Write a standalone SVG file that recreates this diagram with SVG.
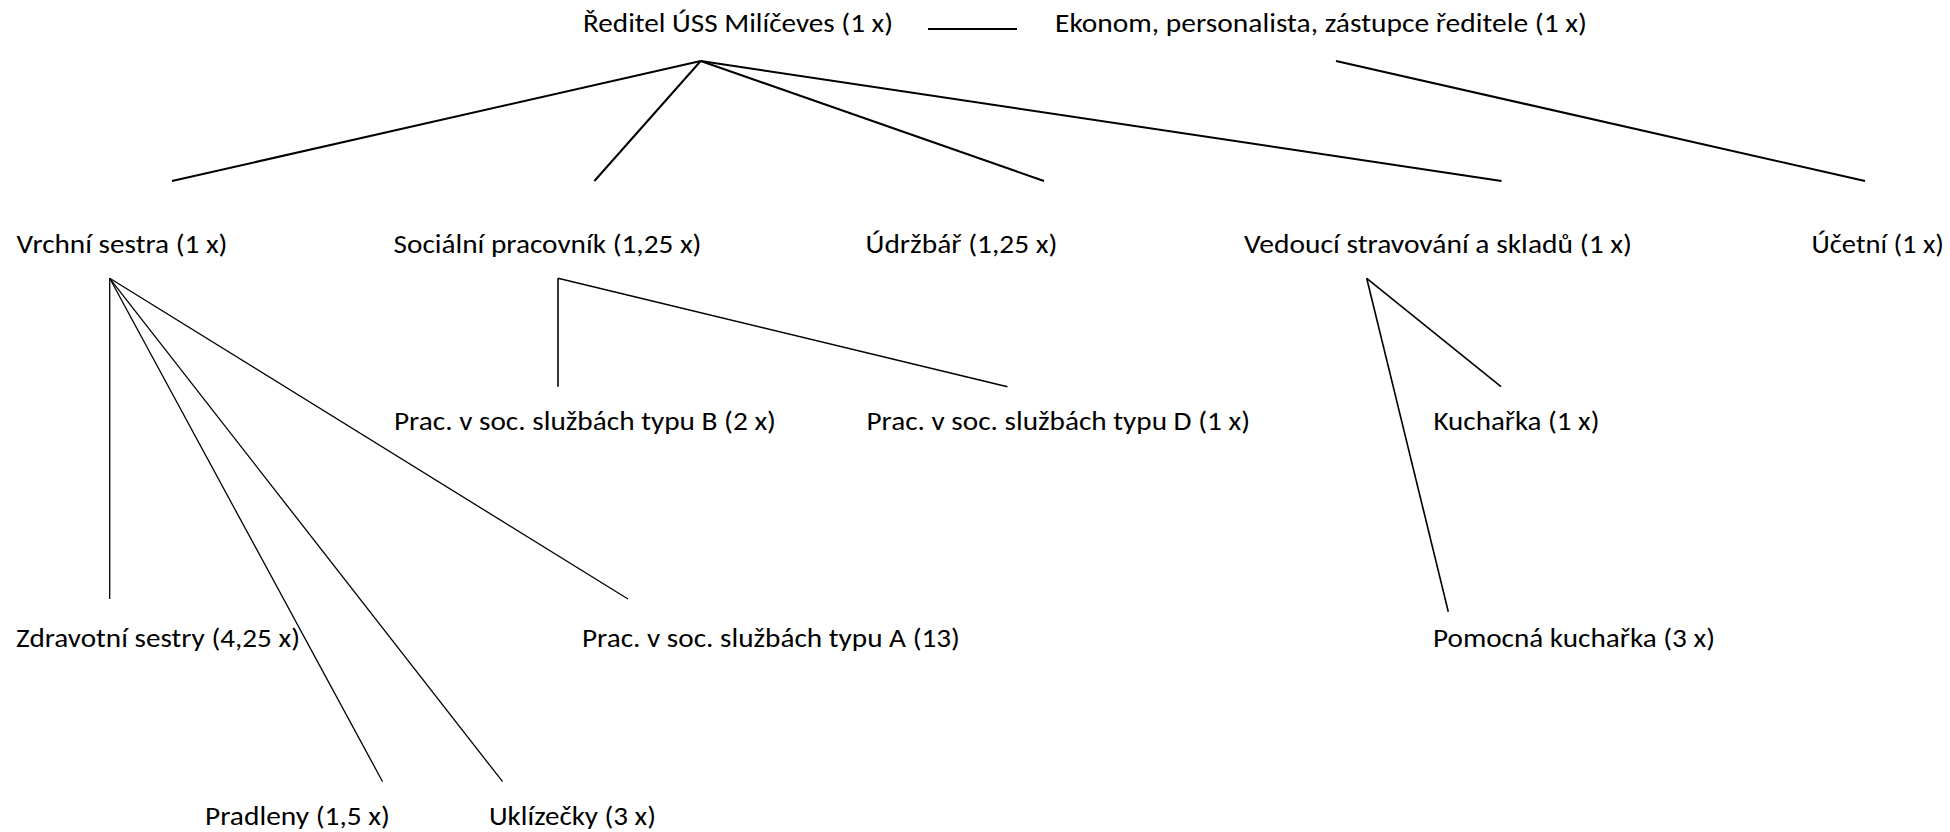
<svg xmlns="http://www.w3.org/2000/svg" width="1950" height="832" viewBox="0 0 1950 832">
<style>
text{font-family:Carlito,Lato,"Liberation Sans",sans-serif;font-size:26.5px;fill:#000}
.c line{stroke:#000;stroke-linecap:butt;fill:none}
.w2{stroke-width:2}
.w15{stroke-width:1.6}
.w13{stroke-width:1.3}
</style>
<rect width="1950" height="832" fill="#fff"/>
<g id="connectors" class="c">
<line class="w2" x1="928" y1="29" x2="1017" y2="29"/>
<line class="w2" x1="700.7" y1="61" x2="172" y2="181"/>
<line class="w2" x1="700.7" y1="61" x2="594.4" y2="181"/>
<line class="w2" x1="700.7" y1="61" x2="1044" y2="181"/>
<line class="w2" x1="700.7" y1="61" x2="1501.5" y2="181"/>
<line class="w2" x1="1336" y1="61" x2="1865" y2="181"/>
<line class="w13" x1="109.7" y1="278.3" x2="109.7" y2="599"/>
<line class="w13" x1="109.7" y1="278.3" x2="382.6" y2="781.7"/>
<line class="w13" x1="109.7" y1="278.3" x2="502.6" y2="781.7"/>
<line class="w13" x1="109.7" y1="278.3" x2="628" y2="599"/>
<line class="w15" x1="558" y1="278.3" x2="558" y2="386.7"/>
<line class="w15" x1="558" y1="278.3" x2="1007.5" y2="386.7"/>
<line class="w15" x1="1366.7" y1="278.3" x2="1501" y2="386.7"/>
<line class="w15" x1="1366.7" y1="278.3" x2="1448.3" y2="611.7"/>
</g>
<g id="reditel"><text x="583" y="32" textLength="310" lengthAdjust="spacingAndGlyphs">Ředitel ÚSS Milíčeves (1 x)</text></g>
<g id="ekonom"><text x="1055" y="32" textLength="532" lengthAdjust="spacingAndGlyphs">Ekonom, personalista, zástupce ředitele (1 x)</text></g>
<g id="vrchni"><text x="16.5" y="253" textLength="211" lengthAdjust="spacingAndGlyphs">Vrchní sestra (1 x)</text></g>
<g id="socialni"><text x="393.5" y="253" textLength="308" lengthAdjust="spacingAndGlyphs">Sociální pracovník (1,25 x)</text></g>
<g id="udrzbar"><text x="865.5" y="253" textLength="192" lengthAdjust="spacingAndGlyphs">Údržbář (1,25 x)</text></g>
<g id="vedouci"><text x="1244" y="253" textLength="388" lengthAdjust="spacingAndGlyphs">Vedoucí stravování a skladů (1 x)</text></g>
<g id="ucetni"><text x="1811.5" y="253" textLength="132.5" lengthAdjust="spacingAndGlyphs">Účetní (1 x)</text></g>
<g id="pracB"><text x="394" y="430" textLength="382" lengthAdjust="spacingAndGlyphs">Prac. v soc. službách typu B (2 x)</text></g>
<g id="pracD"><text x="866.5" y="430" textLength="383.5" lengthAdjust="spacingAndGlyphs">Prac. v soc. službách typu D (1 x)</text></g>
<g id="kucharka"><text x="1433.5" y="430" textLength="166" lengthAdjust="spacingAndGlyphs">Kuchařka (1 x)</text></g>
<g id="zdravotni"><text x="16" y="647" textLength="284" lengthAdjust="spacingAndGlyphs">Zdravotní sestry (4,25 x)</text></g>
<g id="pracA"><text x="582" y="647" textLength="378" lengthAdjust="spacingAndGlyphs">Prac. v soc. službách typu A (13)</text></g>
<g id="pomocna"><text x="1433" y="647" textLength="282" lengthAdjust="spacingAndGlyphs">Pomocná kuchařka (3 x)</text></g>
<g id="pradleny"><text x="205" y="825" textLength="185" lengthAdjust="spacingAndGlyphs">Pradleny (1,5 x)</text></g>
<g id="uklizecky"><text x="489" y="825" textLength="167" lengthAdjust="spacingAndGlyphs">Uklízečky (3 x)</text></g>
</svg>
